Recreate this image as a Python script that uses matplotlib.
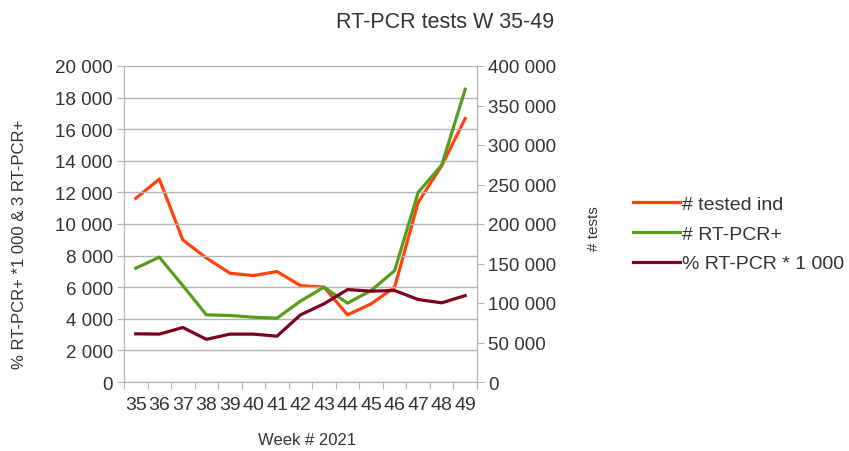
import matplotlib.pyplot as plt
from matplotlib.ticker import FuncFormatter, MultipleLocator, FixedLocator

plt.rcParams['font.family'] = ['Liberation Sans', 'DejaVu Sans']

weeks = ['35', '36', '37', '38', '39', '40', '41', '42', '43', '44', '45', '46', '47', '48', '49']
tested_ind = [232400, 256800, 179800, 157000, 137700, 134700, 139800, 122100,
              120000, 85000, 98900, 120000, 227400, 273700, 333500]
rtpcr_pos = [7200, 7900, 6100, 4250, 4210, 4100, 4040, 5120,
             6000, 4990, 5790, 7050, 12000, 13730, 18530]
pct_rtpcr = [3050, 3030, 3450, 2700, 3030, 3030, 2900, 4250,
             4950, 5850, 5750, 5790, 5220, 5010, 5470]


def spaced(v, pos):
    return f'{int(v):,}'.replace(',', ' ')


grey = '#b3b3b3'
txt = '#333333'
fig = plt.figure(figsize=(8.49, 4.52), dpi=100)
ax1 = fig.add_axes([124 / 849, 1 - 383 / 452, 353 / 849, 316 / 452])
ax2 = ax1.twinx()

x = list(range(len(weeks)))
l1, = ax2.plot(x, tested_ind, color='#ff420e', lw=2.3, label='# tested ind')
l2, = ax1.plot(x, rtpcr_pos, color='#579d1c', lw=2.3, label='# RT-PCR+')
l3, = ax1.plot(x, pct_rtpcr, color='#7e0021', lw=2.3, label='% RT-PCR * 1 000')
ax1.set_zorder(ax2.get_zorder() + 1)
ax1.patch.set_visible(False)

ax1.set_xlim(-0.5, len(weeks) - 0.5)
ax1.set_ylim(0, 20000)
ax2.set_ylim(0, 400000)
ax1.yaxis.set_major_locator(MultipleLocator(2000))
ax2.yaxis.set_major_locator(MultipleLocator(50000))
ax1.yaxis.set_major_formatter(FuncFormatter(spaced))
ax2.yaxis.set_major_formatter(FuncFormatter(spaced))

# ticks between categories, labels centred under the points
ax1.xaxis.set_major_locator(FixedLocator([i - 0.5 for i in range(len(weeks) + 1)]))
ax1.xaxis.set_minor_locator(FixedLocator(x))
ax1.set_xticklabels([])
ax1.set_xticklabels(weeks, minor=True)
ax1.tick_params(axis='x', which='minor', length=0, labelsize=14, pad=10, colors=txt)
ax1.tick_params(axis='x', which='major', length=5, color=grey)
ax1.tick_params(axis='y', length=5, color=grey, labelsize=13.5, labelcolor=txt, pad=3)
ax2.tick_params(axis='y', length=5, color=grey, labelsize=13.5, labelcolor=txt, pad=3)

ax1.grid(axis='y', color=grey, lw=1)
for a in (ax1, ax2):
    a.spines['top'].set_visible(False)
    for s in ('left', 'right', 'bottom'):
        a.spines[s].set_color(grey)

ax1.set_ylabel('% RT-PCR+ *1 000 & 3 RT-PCR+', fontsize=12, color=txt)
ax1.yaxis.set_label_coords(-0.275, 0.44)
ax2.set_ylabel('# tests', fontsize=11, color=txt)
ax2.yaxis.set_label_coords(1.312, 0.49)
ax1.set_xlabel('Week # 2021', fontsize=12, color=txt)
ax1.xaxis.set_label_coords(0.518, -0.158)
fig.text(0.524, 0.95, 'RT-PCR tests W 35-49', ha='center', va='center', fontsize=15.5, color=txt)

fig.legend([l1, l2, l3], [l.get_label() for l in (l1, l2, l3)],
           loc='center left', bbox_to_anchor=(633 / 849, 1 - 235 / 452),
           frameon=False, fontsize=14, handlelength=2.4, handletextpad=0.1,
           labelspacing=0.62, borderpad=0, borderaxespad=0, labelcolor=txt)

fig.savefig('out.png', dpi=100)
